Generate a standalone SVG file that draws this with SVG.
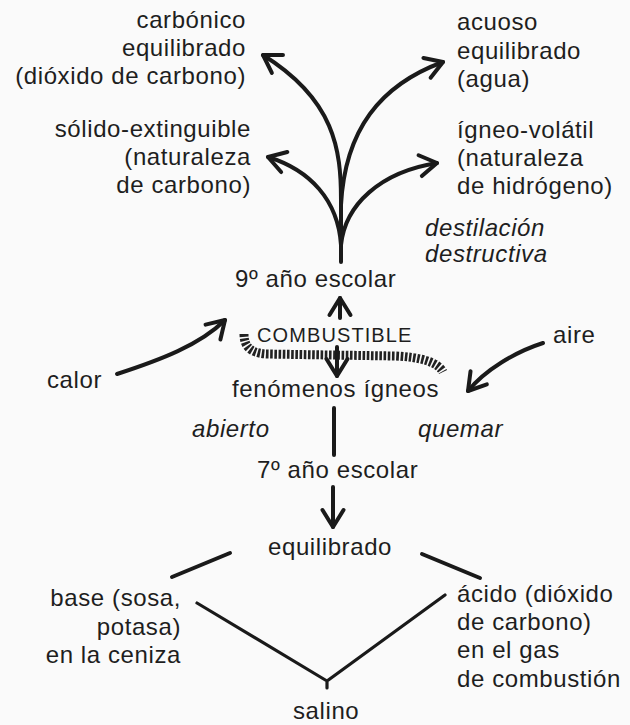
<svg xmlns="http://www.w3.org/2000/svg" width="630" height="725" viewBox="0 0 630 725">
<style>
  text { font-family: "Liberation Sans", Arial, sans-serif; font-size: 24px; fill: #1e1e1e; letter-spacing: 0.6px; }
  .it { font-style: italic; }
  .end { text-anchor: end; }
  .sm { font-size: 20px; letter-spacing: 1.1px; }
  .ln { fill: none; stroke: #1a1a1a; stroke-width: 4; stroke-linecap: round; stroke-linejoin: round; }
  .thin { stroke-width: 3.2; }
  .arr { marker-end: url(#ah); }
  .hatch { fill: none; stroke: #222; stroke-width: 9; stroke-dasharray: 2.6 1.6; }
</style>
<defs>
  <marker id="ah" markerUnits="userSpaceOnUse" viewBox="-24 -16 30 32" markerWidth="30" markerHeight="32" refX="0" refY="0" orient="auto" overflow="visible">
    <path d="M-17,-10.5 L0,0 L-17,10.5" fill="none" stroke="#1a1a1a" stroke-width="4" stroke-linecap="round" stroke-linejoin="round"/>
  </marker>
</defs>
<rect width="630" height="725" fill="#fafafa"/>

<g id="connectors">
  <path class="ln arr" d="M341,262 L341,200 C341,150 335,100 263,55"/>
  <path class="ln arr" d="M341,205 C345,130 380,85 443,62"/>
  <path class="ln arr" d="M341,245 C338,200 310,170 268,157"/>
  <path class="ln arr" d="M341,245 C345,205 380,172 437,163"/>
  <path class="ln arr" d="M340,318 L340,298"/>
  <path class="ln arr" d="M117,374 C160,360 200,345 225,320"/>
  <path class="ln arr" d="M543,343 C515,352 485,370 468,391"/>
  <path class="hatch" d="M244,334 C244,346 250,353 266,354 L395,356 C420,357 438,362 443,372"/>
  <path class="ln arr" d="M337,347 L337,376"/>
  <path class="ln" d="M334,408 L334,455"/>
  <path class="ln arr" d="M333,487 L333,527"/>
  <path class="ln" d="M230,553 L172,577"/>
  <path class="ln" d="M422,554 L480,578"/>
  <path class="ln thin" d="M197,603 L327,681 L445,595 M327,681 L327,688"/>
</g>

<g id="carbonico"><text class="end" x="246" y="28">carbónico</text><text class="end" x="246" y="56">equilibrado</text><text class="end" x="246" y="84">(dióxido de carbono)</text></g>
<g id="acuoso"><text x="457" y="30">acuoso</text><text x="457" y="59">equilibrado</text><text x="457" y="87">(agua)</text></g>
<g id="solido"><text class="end" x="251" y="137">sólido-extinguible</text><text class="end" x="251" y="165">(naturaleza</text><text class="end" x="251" y="193">de carbono)</text></g>
<g id="igneo"><text x="457" y="138">ígneo-volátil</text><text x="457" y="166">(naturaleza</text><text x="457" y="194">de hidrógeno)</text></g>
<g id="destilacion"><text class="it" x="425" y="236">destilación</text><text class="it" x="425" y="262">destructiva</text></g>
<g id="ano9"><text x="235" y="287">9º año escolar</text></g>
<g id="combustible"><text class="sm" x="257" y="342">COMBUSTIBLE</text></g>
<g id="calor"><text x="47" y="388">calor</text></g>
<g id="aire"><text x="553" y="343">aire</text></g>
<g id="fenomenos"><text x="232" y="397">fenómenos ígneos</text></g>
<g id="abierto"><text class="it" x="192" y="437">abierto</text></g>
<g id="quemar"><text class="it" x="418" y="437">quemar</text></g>
<g id="ano7"><text x="257" y="478">7º año escolar</text></g>
<g id="equilibrado"><text x="268" y="555">equilibrado</text></g>
<g id="base"><text class="end" x="181" y="606">base (sosa,</text><text class="end" x="181" y="635">potasa)</text><text class="end" x="181" y="663">en la ceniza</text></g>
<g id="acido"><text x="457" y="602">ácido (dióxido</text><text x="457" y="630">de carbono)</text><text x="457" y="658">en el gas</text><text x="457" y="687">de combustión</text></g>
<g id="salino"><text x="293" y="719">salino</text></g>
</svg>
